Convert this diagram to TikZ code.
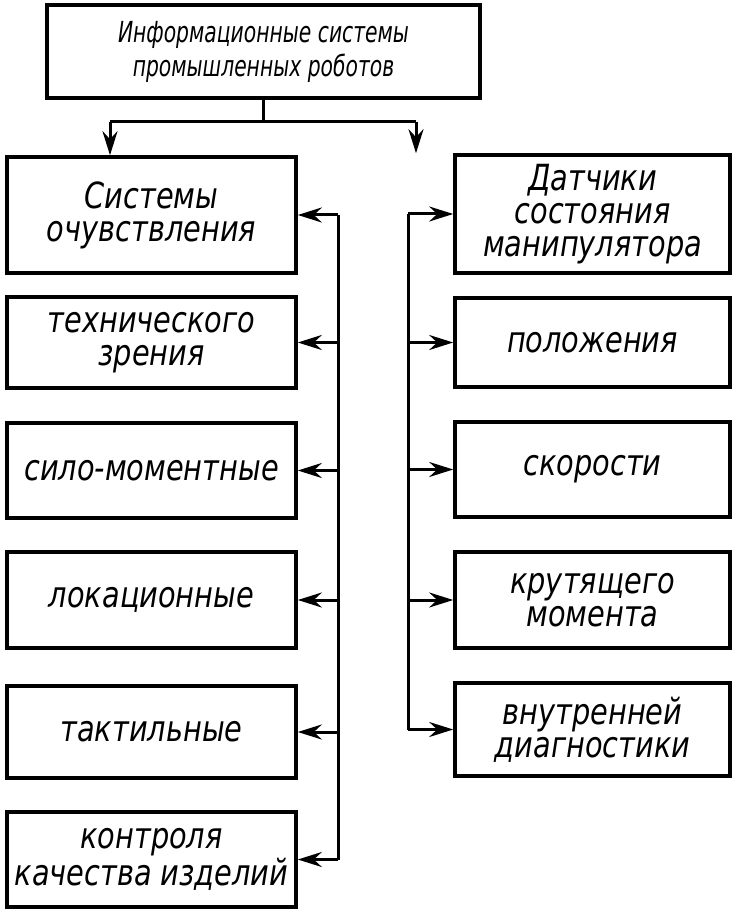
\documentclass[tikz,border=0pt]{standalone}
\usepackage{fontspec}
\setmainfont{DejaVu Sans}[FakeStretch=0.8]
\newfontfamily\uzkij{DejaVu Sans}[FakeStretch=0.7]
\usetikzlibrary{arrows.meta}

\begin{document}
\begin{tikzpicture}
  [x=0.5pt,y=-0.5pt,
   blok/.style={draw,line width=1.8pt,align=center,inner sep=2pt,font=\itshape\fontsize{18}{16.5}\selectfont},
   levy/.style={blok,minimum width=144.5pt},
   pravy/.style={blok,minimum width=137.5pt},
   shina/.style={line width=1.5pt},
   svyaz/.style={shina,-{Stealth[length=12pt,width=7.5pt,inset=4pt]}}]
  \useasboundingbox (0,0) rectangle (740,914);

  \node[blok,minimum width=216.5pt,minimum height=46.5pt,line width=2.2pt,
        font=\uzkij\itshape\fontsize{14.5}{17}\selectfont] (verh) at (263.5,51.5)
        {Информационные системы\\промышленных роботов};

  \node[levy,minimum height=58pt]   (s1) at (151.5,215)   {Системы\\очувствления};
  \node[levy,minimum height=45.5pt] (s2) at (151.5,342.5) {технического\\зрения};
  \node[levy,minimum height=47.5pt] (s3) at (151.5,470.5) {сило-моментные};
  \node[levy,minimum height=48pt]   (s4) at (151.5,600)   {локационные};
  \node[levy,minimum height=46pt]   (s5) at (151.5,732)   {тактильные};
  \node[levy,minimum height=47.5pt] (s6) at (151.5,859.5) {контроля\\качества изделий};

  \node[pravy,minimum height=59pt]   (d1) at (592.5,214)   {Датчики\\состояния\\манипулятора};
  \node[pravy,minimum height=44.5pt] (d2) at (592.5,342.5) {положения};
  \node[pravy,minimum height=47.5pt] (d3) at (592.5,469.5) {скорости};
  \node[pravy,minimum height=48pt]   (d4) at (592.5,600)   {крутящего\\момента};
  \node[pravy,minimum height=46.5pt] (d5) at (592.5,729.5) {внутренней\\диагностики};

  % razvetvlenie ot verhnego bloka
  \coordinate (razv) at (262,122);
  \coordinate (kL) at (110,122);
  \coordinate (kR) at (416,122);
  \draw[shina] (verh.south) -- (verh.south |- razv);
  \draw[shina] (kL) -- (kR);
  \draw[svyaz] (kL) -- (kL |- s1.north);
  \draw[svyaz] (kR) -- (kR |- d1.north);

  % shiny
  \coordinate (shL) at (338,0);
  \coordinate (shR) at (408,0);
  \draw[shina] (shL |- s1.east) -- (shL |- s6.east);
  \draw[shina] (shR |- d1.west) -- (shR |- d5.west);
  \foreach \n in {s1,s2,s3,s4,s5,s6}
    \draw[svyaz] (shL |- \n.east) -- (\n.east);
  \foreach \n in {d1,d2,d3,d4,d5}
    \draw[svyaz] (shR |- \n.west) -- (\n.west);
\end{tikzpicture}
\end{document}
